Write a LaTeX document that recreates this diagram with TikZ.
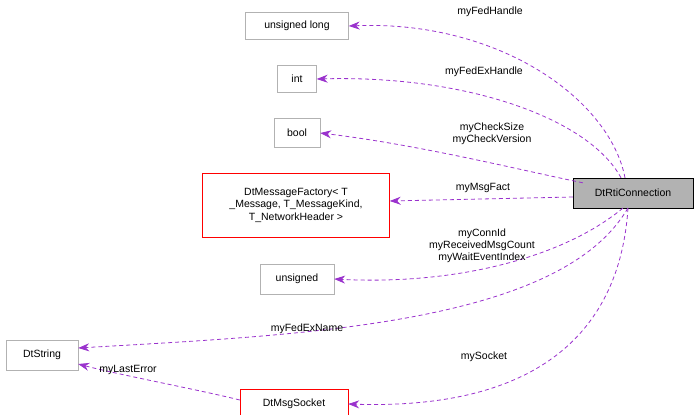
\documentclass[tikz,border=0pt]{standalone}
\usepackage{fontspec}
\setmainfont{Liberation Sans}
\usetikzlibrary{arrows.meta}
\begin{document}
\begin{tikzpicture}[x=1pt,y=-1pt,
 box/.style={draw=black!30,fill=white,inner sep=0pt,align=center,font=\fontsize{10.5}{12.5}\selectfont},
 red/.style={box,draw=red},
 lbl/.style={font=\fontsize{10.5}{12}\selectfont,align=center,inner sep=0pt},
 dep/.style={draw={rgb,255:red,154;green,50;blue,205},line width=0.8pt,dashed,dash pattern=on 4pt off 3pt,-{Stealth[length=11pt,width=8pt]}}]
\useasboundingbox (0,0) rectangle (699,415);
\node[box,minimum width=103,minimum height=27] (ul) at (297,26) {unsigned long};
\node[box,minimum width=39,minimum height=27] (int) at (297,79) {int};
\node[box,minimum width=46,minimum height=29] (bool) at (297,133) {bool};
\node[red,minimum width=187,minimum height=64] (fac) at (296,205) {DtMessageFactory< T\\\_Message, T\_MessageKind,\\T\_NetworkHeader >};
\node[box,minimum width=74,minimum height=30] (uns) at (297,279) {unsigned};
\node[box,minimum width=72,minimum height=30] (str) at (42,355) {DtString};
\node[red,minimum width=108,minimum height=30] (sock) at (294,404) {DtMsgSocket};
\node[box,draw=black,fill=black!30,minimum width=120,minimum height=30] (rti) at (633,193) {DtRtiConnection};
\draw[dep] (rti.north) ++(-8,0) .. controls (610,100) and (500,20) .. (ul.east);
\draw[dep] (rti.north) ++(-12,0) .. controls (590,120) and (470,75) .. (int.east);
\draw[dep] (rti.north west) ++(10,5) .. controls (520,170) and (420,145) .. (bool.east);
\draw[dep] (rti.west) ++(0,4) -- (fac.east |- 0,201);
\draw[dep] (rti.south west) ++(50,0) .. controls (560,260) and (450,285) .. (uns.east);
\draw[dep] (rti.south west) ++(55,0) .. controls (560,325) and (300,335) .. (str.east |- 0,348);
\draw[dep] (rti.south) ++(-5,0) .. controls (620,330) and (540,410) .. (sock.east);
\draw[dep] (sock.west) ++(0,-4) .. controls (200,390) and (120,375) .. (str.east |- 0,364);
\node[lbl] at (490,12) {myFedHandle};
\node[lbl] at (484,72) {myFedExHandle};
\node[lbl] at (492,134) {myCheckSize\\myCheckVersion};
\node[lbl] at (483,188) {myMsgFact};
\node[lbl] at (482,246) {myConnId\\myReceivedMsgCount\\myWaitEventIndex};
\node[lbl] at (307,329) {myFedExName};
\node[lbl] at (484,357) {mySocket};
\node[lbl] at (128,370) {myLastError};
\end{tikzpicture}
\end{document}
